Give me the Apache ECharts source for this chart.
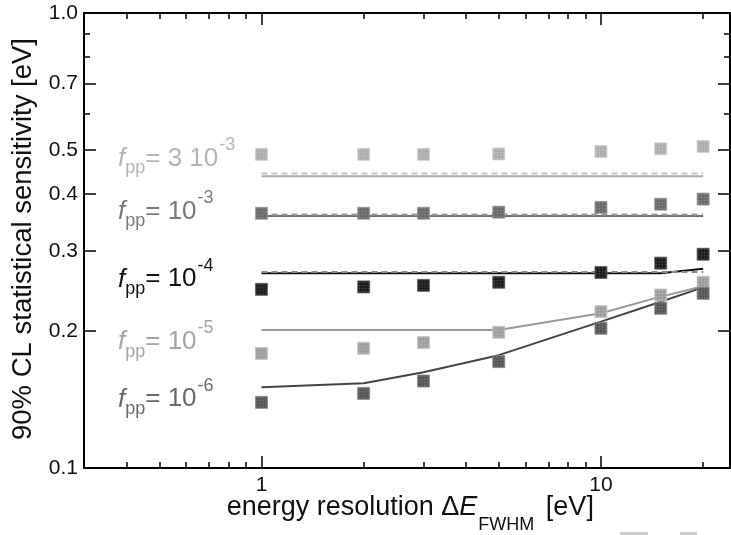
<!DOCTYPE html>
<html><head><meta charset="utf-8">
<script src="https://cdn.jsdelivr.net/npm/echarts@6/dist/echarts.min.js"></script>
<style>html,body{margin:0;padding:0;background:#fff}#c{width:731px;height:535px}</style>
</head><body><div id="c"></div>
<script>
// ---- data ----
const energies = [1, 2, 3, 5, 10, 15, 20];
const pts3e3  = [0.489, 0.489, 0.489, 0.490, 0.496, 0.503, 0.509];
const fit3e3  = [0.438, 0.438, 0.438, 0.438, 0.438, 0.438, 0.438];
const dash3e3 = [0.444, 0.444, 0.444, 0.444, 0.444, 0.444, 0.444];
const pts1e3  = [0.363, 0.363, 0.363, 0.365, 0.374, 0.380, 0.390];
const fit1e3  = [0.358, 0.358, 0.358, 0.358, 0.358, 0.358, 0.358];
const dash1e3 = [0.3605, 0.3605, 0.3605, 0.3605, 0.3605, 0.3605, 0.3605];
const pts1e4  = [0.247, 0.250, 0.252, 0.256, 0.269, 0.282, 0.295];
const fit1e4  = [0.268, 0.268, 0.268, 0.268, 0.268, 0.268, 0.274];
const dash1e4 = [0.2695, 0.2695, 0.2695, 0.2695, 0.2695, 0.2695, 0.2695];
const pts1e5  = [0.1786, 0.1833, 0.1886, 0.1987, 0.2206, 0.240, 0.256];
const fit1e5  = [0.201, 0.201, 0.201, 0.201, 0.2188, 0.238, 0.251];
const pts1e6  = [0.1394, 0.1459, 0.1553, 0.1713, 0.2028, 0.2244, 0.242];
const fit1e6  = [0.1504, 0.1535, 0.1623, 0.177, 0.2097, 0.232, 0.2494];

const xMajorTicks = [1, 10];
const xMinorTicks = [0.4, 0.5, 0.6, 0.7, 0.8, 0.9, 2, 3, 4, 5, 6, 7, 8, 9, 20];
const yMajorTicks = [0.1, 0.2, 0.3, 0.4, 0.5, 0.7, 1.0];
const yMinorTicks = [0.6, 0.8, 0.9];

const labelMain = ['= 3 10', '= 10', '= 10', '= 10', '= 10'];
const labelSup  = ['-3', '-3', '-4', '-5', '-6'];
const xTitleParts = ['energy resolution \u0394', 'E', 'FWHM', '[eV]'];
const yTitle = '90% CL statistical sensitivity [eV]';

// ---- helpers ----
const FAM = '"Liberation Sans", Arial, Helvetica, sans-serif';
const mctx = document.createElement('canvas').getContext('2d');
function tw(text, size, italic) { mctx.font = (italic ? 'italic ' : '') + size + 'px ' + FAM; return mctx.measureText(text).width; }
function txt(x, base, text, size, color, italic) {
  return { type: 'text', x: x, y: base - 0.3465 * size, silent: true,
    style: { text: text, fill: color, font: (italic ? 'italic ' : '') + size + 'px ' + FAM,
      textAlign: 'left', textVerticalAlign: 'middle' } };
}
function pat(base, dot) {
  const c = document.createElement('canvas'); c.width = 3; c.height = 3;
  const g = c.getContext('2d'); g.fillStyle = base; g.fillRect(0, 0, 3, 3);
  g.fillStyle = dot; g.fillRect(1, 1, 1, 1);
  return { image: c, repeat: 'repeat', scaleX: 1 / 6, scaleY: 1 / 6 };
}
const pair = arr => energies.map((e, i) => [e, arr[i]]);

const X_MIN = 0.3, X_MAX = 24, Y_MIN = 0.1, Y_MAX = 1.0;
function axis(dim, pos, ticks, len, line, labels) {
  const a = {
    type: 'log', logBase: 10, position: pos, min: dim === 'x' ? X_MIN : Y_MIN, max: dim === 'x' ? X_MAX : Y_MAX,
    gridIndex: 0,
    axisLine: { show: line, onZero: false, lineStyle: { color: '#000', width: 2 } },
    axisTick: { show: true, inside: true, length: len, customValues: ticks, lineStyle: { color: '#000', width: 1.5 } },
    splitLine: { show: false }, minorTick: { show: false }, minorSplitLine: { show: false },
    axisLabel: { show: !!labels }
  };
  if (labels) {
    a.axisLabel = { show: true, customValues: ticks, color: '#111', fontSize: 21, fontFamily: FAM,
      margin: dim === 'x' ? 7 : 6, showMinLabel: true, showMaxLabel: true,
      formatter: dim === 'x' ? (v => String(Math.round(v))) : (v => (Math.round(v * 10) / 10).toFixed(1)) };
  }
  return a;
}

// ---- label annotations ----
const labelBase = [167.7, 220.7, 288.3, 351.2, 408.3];
const labelColor = ['#b5b5b5', '#7a7a7a', '#111111', '#a5a5a5', '#6a6a6a'];
const graphics = [];
labelMain.forEach((m, i) => {
  const B = labelBase[i], col = labelColor[i];
  let x = 118;
  graphics.push(txt(x, B, 'f', 26, col, true)); x += tw('f', 26, true);
  graphics.push(txt(x, B + 7, 'pp', 18, col, false)); x += tw('pp', 18, false);
  graphics.push(txt(x, B, m, 26, col, false)); x += tw(m, 26, false) + 1;
  graphics.push(txt(x, B - 16.5, labelSup[i], 18, col, false));
});
// x title
(function () {
  let x = 226.7; const B = 517, S = 27;
  graphics.push(txt(x, B, xTitleParts[0], S, '#111', false)); x += tw(xTitleParts[0], S, false);
  graphics.push(txt(x, B, xTitleParts[1], S, '#111', true)); x += tw(xTitleParts[1], S, true) + 1;
  graphics.push(txt(x, B + 14, xTitleParts[2], 18, '#111', false)); x += tw(xTitleParts[2], 18, false) + tw(' ', S, false) + 4;
  graphics.push(txt(x, B, xTitleParts[3], S, '#111', false));
})();
// y title
graphics.push({ type: 'text', x: 33 - 0.3465 * 27.5, y: 239, rotation: Math.PI / 2, silent: true,
  style: { text: yTitle, fill: '#111', font: '27.5px ' + FAM, textAlign: 'center', textVerticalAlign: 'middle' } });
// faint marks at bottom edge
graphics.push({ type: 'rect', shape: { x: 620, y: 532, width: 28, height: 3 }, style: { fill: '#cccccc' }, silent: true });
graphics.push({ type: 'rect', shape: { x: 680, y: 532, width: 17, height: 3 }, style: { fill: '#cccccc' }, silent: true });

// ---- series ----
function lineS(arr, color, dashed, z) {
  return { type: 'line', data: pair(arr), symbol: 'none', silent: true, z: z, animation: false,
    lineStyle: { color: color, width: 2, type: dashed ? [6, 4] : 'solid' } };
}
function scat(arr, base, dot) {
  return { type: 'scatter', data: pair(arr), symbol: 'rect', symbolSize: 12, z: 10, animation: false, silent: true,
    itemStyle: { color: pat(base, dot), borderColor: dot, borderWidth: 0.8, opacity: 1 } };
}
const series = [
  lineS(fit3e3, '#aaaaaa', false, 2), lineS(dash3e3, '#c6c6c6', true, 3),
  lineS(fit1e3, '#6e6e6e', false, 2), lineS(dash1e3, '#9a9a9a', true, 3),
  lineS(fit1e4, '#111111', false, 2), lineS(dash1e4, '#8c8c8c', true, 3),
  lineS(fit1e5, '#999999', false, 2),
  lineS(fit1e6, '#444444', false, 2),
  scat(pts3e3, '#adadad', '#d2d2d2'),
  scat(pts1e3, '#6b6b6b', '#999999'),
  scat(pts1e4, '#1e1e1e', '#5e5e5e'),
  scat(pts1e5, '#9e9e9e', '#c8c8c8'),
  scat(pts1e6, '#575757', '#8c8c8c')
];
series.forEach(s => { s.xAxisIndex = 0; s.yAxisIndex = 0; });

const chart = echarts.init(document.getElementById('c'), null, { renderer: 'canvas' });
chart.setOption({
  animation: false,
  backgroundColor: '#ffffff',
  grid: { left: 84, top: 13, right: 1, bottom: 67, containLabel: false, outerBoundsMode: 'none' },
  xAxis: [
    axis('x', 'bottom', xMajorTicks, 12, true, true),
    axis('x', 'bottom', xMinorTicks, 6, false, false),
    axis('x', 'top', xMajorTicks, 12, true, false),
    axis('x', 'top', xMinorTicks, 6, false, false)
  ],
  yAxis: [
    axis('y', 'left', yMajorTicks, 12, true, true),
    axis('y', 'left', yMinorTicks, 6, false, false),
    axis('y', 'right', yMajorTicks, 12, true, false),
    axis('y', 'right', yMinorTicks, 6, false, false)
  ],
  series: series,
  graphic: graphics
});
</script></body></html>
